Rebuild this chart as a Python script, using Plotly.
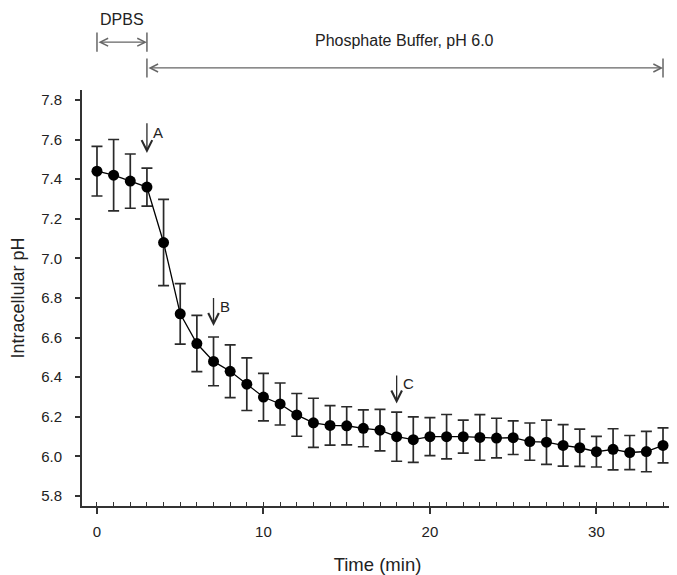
import plotly.graph_objects as go

# data
time_min = list(range(0, 35))
ph_mean = [7.44, 7.42, 7.39, 7.36, 7.08, 6.72, 6.57, 6.48, 6.43, 6.365,
           6.30, 6.265, 6.21, 6.17, 6.157, 6.155, 6.142, 6.133, 6.10, 6.085,
           6.10, 6.10, 6.10, 6.096, 6.093, 6.095, 6.075, 6.072, 6.056, 6.044,
           6.024, 6.036, 6.02, 6.025, 6.056]
ph_err = [0.125, 0.18, 0.137, 0.096, 0.218, 0.153, 0.142, 0.123, 0.133, 0.133,
          0.12, 0.106, 0.108, 0.124, 0.10, 0.096, 0.093, 0.105, 0.124, 0.115,
          0.096, 0.112, 0.083, 0.115, 0.10, 0.085, 0.094, 0.112, 0.105, 0.094,
          0.077, 0.104, 0.086, 0.102, 0.088]

# event markers (label, time, arrow top, arrow bottom)
events = [("A", 3, 7.69, 7.532), ("B", 7, 6.807, 6.659), ("C", 18, 6.416, 6.268)]

# treatment periods (label, start, end)
periods = [("DPBS", 0, 3), ("Phosphate Buffer, pH 6.0", 3, 34)]

FONT = "Liberation Sans, Arial, sans-serif"
AXIS = "#333333"
BRACKET = "#666666"

# the page body has an 8px default margin, so the figure is 8px smaller
BODY = 8

fig = go.Figure()
fig.add_trace(go.Scatter(
    x=time_min, y=ph_mean,
    mode="lines+markers",
    line=dict(color="black", width=1.3),
    marker=dict(color="black", size=11),
    error_y=dict(type="data", array=ph_err, color="#2a2a2a", thickness=1.7, width=5.5),
    showlegend=False,
))

annotations = []
shapes = []

# arrows A, B, C
for label, t, top, bottom in events:
    annotations.append(dict(
        x=t, y=bottom, xref="x", yref="y",
        ax=t, ay=top, axref="x", ayref="y",
        text="", showarrow=True, arrowhead=5, arrowsize=1.6,
        arrowwidth=1.3, arrowcolor="#2a2a2a",
    ))
    annotations.append(dict(
        x=t + 0.25, y=(top + bottom) / 2 + 0.025, xref="x", yref="y",
        text=label, showarrow=False, xanchor="left", yanchor="middle",
        font=dict(family=FONT, size=15, color="#222222"),
    ))

# period brackets above the plot
bracket_y = [1.115, 1.053]
text_y = [1.17, 1.12]
for (label, start, end), by, ty in zip(periods, bracket_y, text_y):
    annotations.append(dict(
        x=end, y=by, xref="x", yref="paper",
        ax=start, ay=0, axref="x", ayref="pixel",
        text="", showarrow=True, arrowhead=5, startarrowhead=5,
        arrowside="end+start", arrowsize=1.2, startarrowsize=1.2,
        arrowwidth=1.3, arrowcolor=BRACKET,
    ))
    for xe in (start, end):
        shapes.append(dict(
            type="line", xref="x", yref="paper",
            x0=xe, x1=xe, y0=by - 0.023, y1=by + 0.023,
            line=dict(color=BRACKET, width=1.5),
        ))
    annotations.append(dict(
        x=(start + end) / 2, y=ty, xref="x", yref="paper",
        text=label, showarrow=False, xanchor="center", yanchor="middle",
        font=dict(family=FONT, size=16, color="#222222"),
    ))

fig.update_layout(
    width=677 - BODY, height=575 - BODY,
    margin=dict(l=82 - BODY, r=4, t=90 - BODY, b=69),
    plot_bgcolor="white", paper_bgcolor="white",
    font=dict(family=FONT, size=15, color="#222222"),
    annotations=annotations,
    shapes=shapes,
)
fig.update_xaxes(
    range=[-0.9, 34.6], showgrid=False, zeroline=False, automargin=False,
    showline=True, linecolor=AXIS, linewidth=2,
    tickmode="array", tickvals=[0, 10, 20, 30],
    ticks="outside", ticklen=6, tickwidth=1.5, tickcolor=AXIS,
    ticklabelstandoff=5,
    minor=dict(dtick=1, tick0=0, ticks="inside", ticklen=4, tickwidth=1.3, tickcolor=AXIS),
    title=dict(text="Time (min)", font=dict(family=FONT, size=18.5), standoff=19),
)
fig.update_yaxes(
    range=[5.75, 7.85], showgrid=False, zeroline=False, automargin=False,
    showline=True, linecolor=AXIS, linewidth=2,
    tick0=5.8, dtick=0.2, tickformat=".1f",
    ticks="outside", ticklen=5, tickwidth=1.5, tickcolor=AXIS,
    ticklabelstandoff=10,
    title=dict(text="Intracellular pH", font=dict(family=FONT, size=18), standoff=12),
)

fig.write_html("out.html")
